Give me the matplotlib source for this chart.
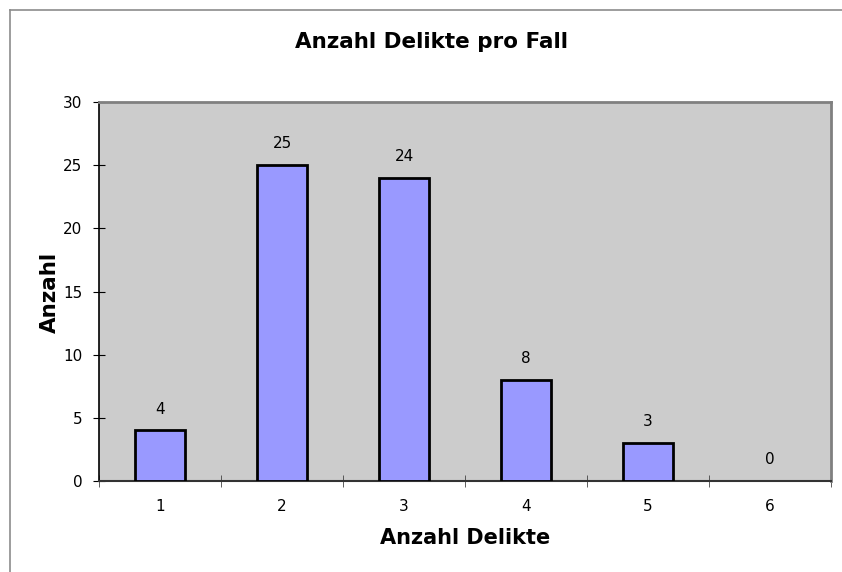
import matplotlib
matplotlib.use("Agg")
import matplotlib.pyplot as plt
from matplotlib.lines import Line2D

categories = ["1", "2", "3", "4", "5", "6"]
counts = [4, 25, 24, 8, 3, 0]

W, H = 842, 572
fig = plt.figure(figsize=(W / 100, H / 100), dpi=100)
fig.patch.set_facecolor("white")

# outer chart frame (top and left edges visible)
fig.add_artist(Line2D([10 / W, 1], [1 - 10 / H, 1 - 10 / H], color="#8c8c8c", lw=1.2))
fig.add_artist(Line2D([10 / W, 10 / W], [0, 1 - 10 / H], color="#8c8c8c", lw=1.2))

ax = fig.add_axes([99 / W, (H - 481) / H, (831 - 99) / W, (481 - 102) / H])
ax.set_facecolor("#cccccc")

x = list(range(len(categories)))
edge_w = [2 if v > 0 else 0 for v in counts]
ax.bar(x, counts, width=0.41, color="#9999ff", edgecolor="black", linewidth=edge_w, zorder=3)
for xi, v in zip(x, counts):
    ax.annotate(str(v), (xi, v), xytext=(0, 10), textcoords="offset points",
                ha="center", va="bottom", fontsize=11)

ax.set_xlim(-0.5, len(categories) - 0.5)
ax.set_ylim(0, 30)
ax.set_yticks(range(0, 31, 5))
ax.set_xticks(x)
ax.set_xticklabels(categories)
ax.set_xticks([i - 0.5 for i in range(len(categories) + 1)], minor=True)
ax.tick_params(axis="x", which="major", length=0, pad=13, labelsize=11)
ax.tick_params(axis="x", which="minor", length=8, direction="inout", color="#444444")
ax.tick_params(axis="y", length=8, direction="inout", pad=8, labelsize=11)

for side in ["top", "right"]:
    ax.spines[side].set_color("#808080")
    ax.spines[side].set_linewidth(2)
ax.spines["left"].set_color("black")
ax.spines["bottom"].set_color("#333333")
ax.spines["left"].set_linewidth(1.2)
ax.spines["bottom"].set_linewidth(1.5)

fig.text(431 / W, 1 - 42 / H, "Anzahl Delikte pro Fall", ha="center", va="center",
         fontsize=15.5, fontweight="bold")
fig.text(465 / W, 1 - 538 / H, "Anzahl Delikte", ha="center", va="center",
         fontsize=15, fontweight="bold")
fig.text(50 / W, 1 - 292 / H, "Anzahl", ha="center", va="center", rotation=90,
         fontsize=15.5, fontweight="bold")

fig.savefig("out.png", dpi=100)
